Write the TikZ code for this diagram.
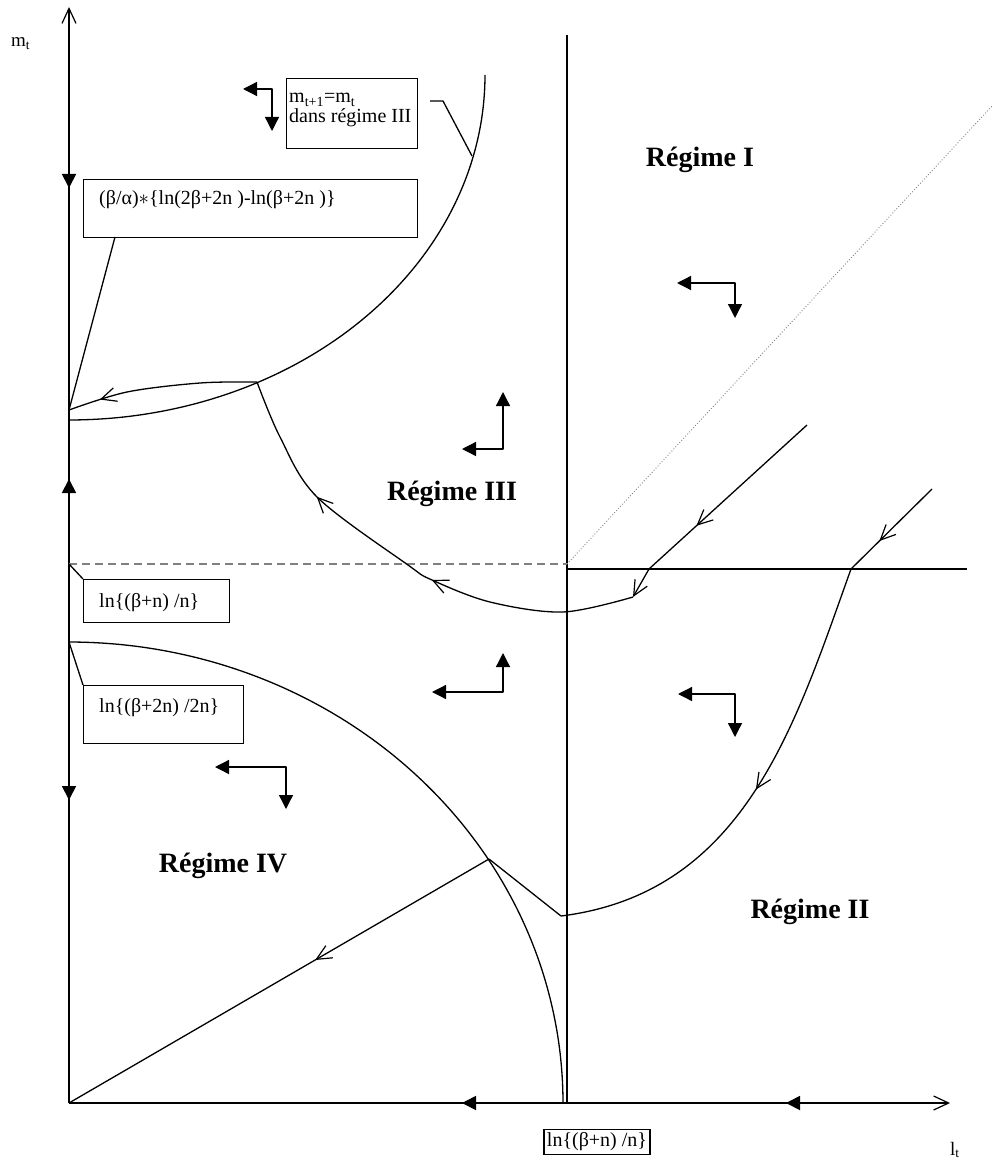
\documentclass[tikz,border=0pt]{standalone}
\usepackage{fontspec}
\setmainfont{Liberation Serif}
\usetikzlibrary{arrows.meta,decorations.markings}
\tikzset{
  barb/.tip={Straight Barb[length=15pt,width=14pt,line width=1.2pt]},
  tri/.tip={Triangle[length=14pt,width=14pt]},
  ln/.style={line width=1.3pt, line join=round},
  arr/.style={ln, postaction={decorate}, decoration={markings, mark=at position #1 with {\arrow{barb}}}},
  arrtwo/.style 2 args={ln, postaction={decorate}, decoration={markings, mark=at position #1 with {\arrow{barb}}, mark=at position #2 with {\arrow{barb}}}},
  box/.style={draw, line width=1.3pt, inner sep=0pt},
  txt/.style={inner sep=0pt, anchor=base west, font=\fontsize{20}{20}\selectfont},
  reg/.style={inner sep=0pt, font=\fontsize{28}{28}\selectfont\bfseries},
}
\begin{document}
\begin{tikzpicture}[x=1pt,y=-1pt]
\useasboundingbox (0,0) rectangle (995,1166);
% coordinates
\coordinate (O) at (69,1103);
\coordinate (ytop) at (69,7);
\coordinate (xend) at (950,1103);
\coordinate (vtop) at (567,35);
\coordinate (vbot) at (567,1103);
\coordinate (dl) at (69,564);
\coordinate (dr) at (567,564);
\coordinate (hl) at (567,569);
\coordinate (hr) at (967,569);
\coordinate (dot) at (993,105);
% axes
\draw[ln, -barb] (O) -- (ytop);
\draw[ln, -barb] (O) -- (xend);
\node[inner sep=0pt, anchor=base west, font=\fontsize{19}{19}\selectfont] (mt) at (11,47) {m\textsubscript{t}};
\node[inner sep=0pt, anchor=base west, font=\fontsize{19}{19}\selectfont] (lt) at (950,1155) {l\textsubscript{t}};
% axis flow arrows
\coordinate (ya1) at (69,147); \coordinate (ya1t) at (69,188);
\coordinate (ya2) at (69,520); \coordinate (ya2t) at (69,479);
\coordinate (ya3) at (69,760); \coordinate (ya3t) at (69,800);
\coordinate (xa1) at (500,1103); \coordinate (xa1t) at (462,1103);
\coordinate (xa2) at (860,1103); \coordinate (xa2t) at (786,1103);
\draw[line width=1.8pt, -tri] (ya1) -- (ya1t);
\draw[line width=1.8pt, -tri] (ya2) -- (ya2t);
\draw[line width=1.8pt, -tri] (ya3) -- (ya3t);
\draw[line width=1.8pt, -tri] (xa1) -- (xa1t);
\draw[line width=1.8pt, -tri] (xa2) -- (xa2t);
% vertical line and horizontals
\draw[ln] (vbot) -- (vtop);
\draw[line width=1.2pt, gray, dash pattern=on 8pt off 5pt] (dl) -- (dr);
\draw[ln] (hl) -- (hr);
\draw[line width=0.9pt, gray, dotted] (dr) -- (dot);
% boundary curve of regime III (upper): quarter ellipse
\draw[ln] plot[domain=270:360, samples=80, smooth] ({69+416*cos(\x)}, {75-345*sin(\x)});
% regime IV boundary: quarter ellipse
\draw[ln] plot[domain=90:0, samples=80, smooth] ({69+494*cos(\x)}, {1103-461*sin(\x)});
% trajectory 1
\coordinate (t1a) at (807,425);
\coordinate (t1b) at (649,569);
\coordinate (t1c) at (633,597);
\coordinate (t1j) at (257,382);
\coordinate (t1e) at (69,410);
\draw[arr=0.7] (t1a) -- (t1b);
\draw[ln, -barb] (t1b) -- (t1c);
\draw[arrtwo={0.433}{0.729}] plot[smooth, tension=0.55] coordinates {(633,597) (563,612) (490,602) (432,580) (408,565) (317,497) (280,437) (257,382)};
\draw[arr=0.83] plot[smooth, tension=0.55] coordinates {(257,382) (200,383) (127,392) (69,410)};
% trajectory 2
\coordinate (t2a) at (932,489);
\coordinate (t2b) at (851,569);
\coordinate (t2c) at (561,916);
\coordinate (t2d) at (489,859);
\draw[arr=0.65] (t2a) -- (t2b);
\draw[arr=0.5] (t2b) .. controls (795,725) and (745,893) .. (t2c);
\draw[ln] (t2c) -- (t2d);
\draw[arr=0.414] (t2d) -- (O);
% regime indicators
\draw[ln, tri-tri] (243,89) -- (272,89) -- (272,131);
\draw[ln, tri-tri] (462,449) -- (503,449) -- (503,392);
\draw[ln, tri-tri] (432,692) -- (503,692) -- (503,653);
\draw[ln, tri-tri] (677,283) -- (735,283) -- (735,318);
\draw[ln, tri-tri] (678,694) -- (735,694) -- (735,737);
\draw[ln, tri-tri] (215,767) -- (286,767) -- (286,809);
% boxes
\node[box, minimum width=131pt, minimum height=70pt, anchor=north west] (bB) at (286,78) {};
\node[txt] (tB1) at (289,103) {m\textsubscript{t+1}=m\textsubscript{t}};
\node[txt] (tB2) at (289,123) {dans régime III};
\draw[ln] (472,156) -- (443,101) -- (430,101);
\node[box, minimum width=334pt, minimum height=58pt, anchor=north west] (bA) at (83,179) {};
\node[txt] (tA) at (99,205) {(β/α)$\ast$\{ln(2β+2n )-ln(β+2n )\}};
\draw[ln] (t1e) -- (115,237);
\node[box, minimum width=146pt, minimum height=43pt, anchor=north west] (bC) at (83,579) {};
\node[txt] (tC) at (99,607) {ln\{(β+n) /n\}};
\draw[ln] (dl) -- (bC.north west);
\node[box, minimum width=160pt, minimum height=58pt, anchor=north west] (bD) at (83,685) {};
\node[txt] (tD) at (99,712) {ln\{(β+2n) /2n\}};
\draw[ln] (69,642) -- (bD.north west);
\node[box, inner sep=3pt, font=\fontsize{20}{20}\selectfont] (bE) at (597,1142) {ln\{(β+n) /n\}};
% regime labels
\node[reg] (r1) at (700,160) {Régime I};
\node[reg] (r3) at (452,494) {Régime III};
\node[reg] (r2) at (810,912) {Régime II};
\node[reg] (r4) at (223,866) {Régime IV};
\end{tikzpicture}
\end{document}
